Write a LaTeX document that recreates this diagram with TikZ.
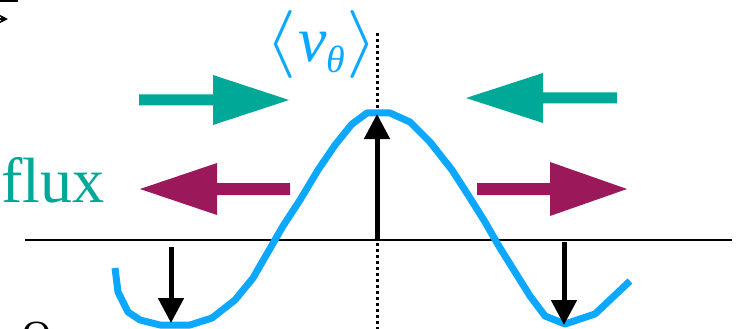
\documentclass[tikz,border=0pt]{standalone}
\usepackage{fontspec}
\setmainfont{Liberation Serif}
\usetikzlibrary{arrows.meta}
\definecolor{tealc}{RGB}{0,168,152}
\definecolor{magc}{RGB}{155,25,90}
\definecolor{bluec}{RGB}{12,168,255}
\tikzset{
  vec/.style={line width=5pt,-{Triangle[width=25pt,length=25pt]}},
  tealarrow/.style={fill=tealc,draw=none},
  magarrow/.style={fill=magc,draw=none},
  curveline/.style={draw=bluec,line width=7pt,line join=round},
  axisline/.style={line width=2.6pt},
  centerline/.style={line width=3pt,dash pattern=on 3pt off 3pt},
  bigtext/.style={inner sep=0pt,font=\fontsize{64}{70}\selectfont}
}
\newcommand{\bigbrk}[1]{\scalebox{8}[6.8]{\fontsize{10}{12}\selectfont$#1$}}
\begin{document}
\begin{tikzpicture}[x=1pt,y=-1pt]
\useasboundingbox (0,0) rectangle (737,329);
\clip (0,0) rectangle (737,329);

% cropped bits at the left edge
\draw[line width=2pt] (-10,1) -- (18,1);
\coordinate (tl0) at (-30,19);
\coordinate (tl1) at (8,19);
\draw[line width=1.5pt,-{Stealth[length=9pt,width=9pt]}] (tl0) -- (tl1);
\node[inner sep=0pt,anchor=north,font=\fontsize{40}{44}\selectfont] (cutO) at (37,322) {O};

% axis and centre line
\coordinate (axL) at (25,240);
\coordinate (axR) at (732,240);
\draw[axisline] (axL) -- (axR);
\coordinate (cTop) at (377,33);
\coordinate (cBot) at (377,335);
\draw[centerline] (cTop) -- (cBot);

% blue curve
\draw[curveline] (115,268) -- (118,292) -- (128,312) -- (140,320) -- (160,325)
  -- (190,325) -- (212,318) -- (235,300) -- (253,278) -- (268,252) -- (283,226)
  -- (300,200) -- (318,170) -- (335,145) -- (352,124) -- (367,113) -- (390,113)
  -- (410,122) -- (430,142) -- (452,170) -- (470,198) -- (485,222) -- (500,248)
  -- (515,272) -- (530,296) -- (545,316) -- (565,324) -- (595,314) -- (630,281);

% black vectors
\coordinate (u0) at (377,240);
\coordinate (u1) at (377,114);
\draw[vec] (u0) -- (u1);
\coordinate (l0) at (171,247);
\coordinate (l1) at (171,323);
\draw[vec] (l0) -- (l1);
\coordinate (r0) at (564,242);
\coordinate (r1) at (564,325);
\draw[vec] (r0) -- (r1);

% teal arrows
\fill[tealarrow] (139,94.5) -- (213,94.5) -- (213,75) -- (289,100) -- (213,125) -- (213,105.5) -- (139,105.5) -- cycle;
\fill[tealarrow] (617,92.5) -- (543,92.5) -- (543,73) -- (466,98) -- (543,123) -- (543,103.5) -- (617,103.5) -- cycle;

% magenta arrows
\fill[magarrow] (290,183) -- (217,183) -- (217,163) -- (140,189) -- (217,215) -- (217,195) -- (290,195) -- cycle;
\fill[magarrow] (477,183) -- (550,183) -- (550,162) -- (627,189) -- (550,216) -- (550,195) -- (477,195) -- cycle;

% labels
\node[bigtext,text=tealc,anchor=base west] (flux) at (1,202) {flux};
\node[bigtext,text=bluec,anchor=base west] (vtheta) at (265,62)
  {\bigbrk{\langle}\hspace{2pt}\textit{v}\raisebox{-11pt}{\fontsize{38}{40}\selectfont\textit{θ}}\hspace{1pt}\bigbrk{\rangle}};
\end{tikzpicture}
\end{document}
